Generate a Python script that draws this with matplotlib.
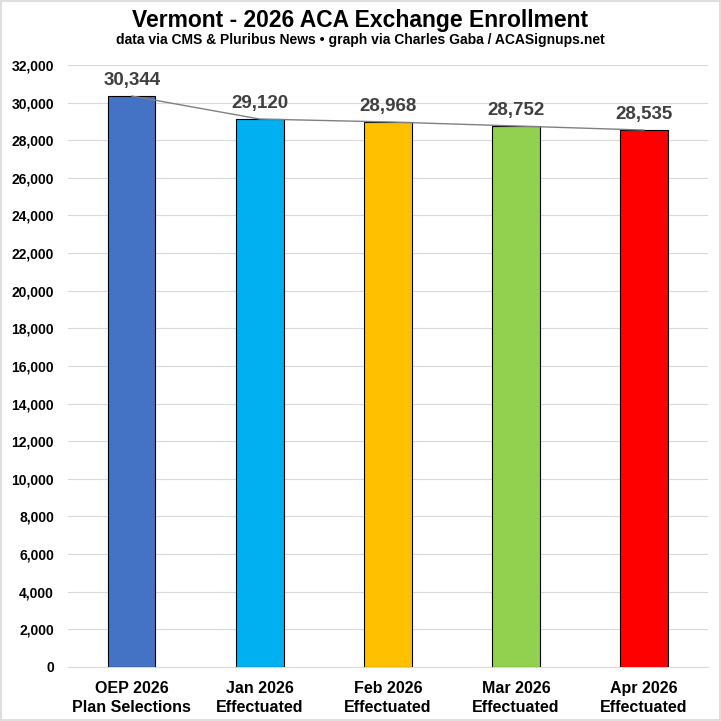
import matplotlib
matplotlib.use("Agg")
import matplotlib.pyplot as plt
from matplotlib.ticker import FuncFormatter, MultipleLocator
from matplotlib.patches import Rectangle

categories = ["OEP 2026\nPlan Selections", "Jan 2026\nEffectuated", "Feb 2026\nEffectuated",
              "Mar 2026\nEffectuated", "Apr 2026\nEffectuated"]
values = [30344, 29120, 28968, 28752, 28535]
colors = ["#4472C4", "#00B0F0", "#FFC000", "#92D050", "#FF0000"]

plt.rcParams['font.family'] = ['Liberation Sans', 'DejaVu Sans']

fig = plt.figure(figsize=(7.21, 7.21), dpi=100)
ax = fig.add_axes([0.094, 0.075, 0.888, 0.835])
x = list(range(len(values)))
ax.bar(x, values, width=0.37, color=colors, edgecolor="black", linewidth=0.8, zorder=3)
ax.plot(x, values, color="#808080", linewidth=1.0, zorder=4)
for xi, v in zip(x, values):
    ax.text(xi, v + 350, f"{v:,}", ha="center", va="bottom", fontsize=13.5,
            fontweight="bold", color="#404040", zorder=5)

ax.set_xlim(-0.5, 4.5)
ax.set_ylim(0, 32000)
ax.yaxis.set_major_locator(MultipleLocator(2000))
ax.yaxis.set_major_formatter(FuncFormatter(lambda v, p: f"{int(v):,}"))
ax.set_xticks(x)
ax.set_xticklabels(categories, fontsize=11.5, fontweight="bold", linespacing=1.35)
for lab in ax.get_yticklabels():
    lab.set_fontweight("bold")
    lab.set_fontsize(10)
ax.tick_params(axis="both", length=0)
ax.tick_params(axis="x", pad=10)
ax.tick_params(axis="y", pad=10)
ax.grid(axis="y", color="#D9D9D9", linewidth=0.8, zorder=0)
for s in ["top", "right", "left"]:
    ax.spines[s].set_visible(False)
ax.spines["bottom"].set_color("#D9D9D9")

fig.text(0.5, 0.971, "Vermont - 2026 ACA Exchange Enrollment", ha="center", va="center",
         fontsize=16.5, fontweight="bold")
fig.text(0.5, 0.944, "data via CMS & Pluribus News \u2022 graph via Charles Gaba / ACASignups.net",
         ha="center", va="center", fontsize=10, fontweight="bold")

fig.patches.append(Rectangle((0.002, 0.002), 0.996, 0.996, transform=fig.transFigure,
                             fill=False, edgecolor="#D9D9D9", linewidth=1.2))
fig.savefig("out.png", dpi=100, facecolor="white")
